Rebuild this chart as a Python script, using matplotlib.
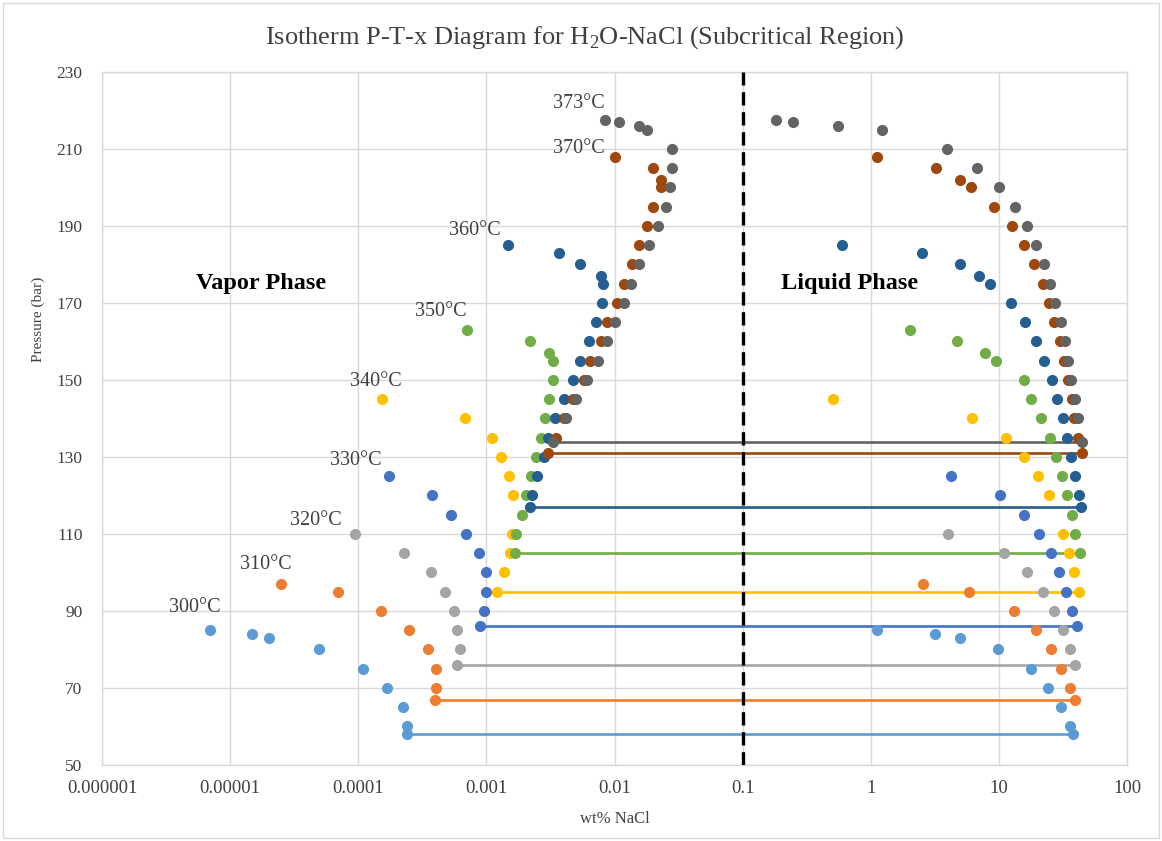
import matplotlib.pyplot as plt
import numpy as np
from matplotlib.patches import Rectangle

# pressures (bar) and compositions (wt% NaCl) per isotherm
p_300 = [85, 84, 83, 80, 75, 70, 65, 60, 58]
vap_300 = [6.9e-6, 1.49e-5, 2.0e-5, 4.96e-5, 1.09e-4, 1.69e-4, 2.22e-4, 2.4e-4, 2.4e-4]
liq_300 = [1.11, 3.18, 5.0, 9.9, 17.8, 24.3, 30.5, 35.9, 37.8]

p_310 = [97, 95, 90, 85, 80, 75, 70, 67]
vap_310 = [2.49e-5, 6.9e-5, 1.5e-4, 2.5e-4, 3.48e-4, 4.05e-4, 4.05e-4, 4.0e-4]
liq_310 = [2.55, 5.8, 13.2, 19.5, 25.7, 30.7, 35.6, 39.0]

p_320 = [110, 105, 100, 95, 90, 85, 80, 76]
vap_320 = [9.4e-5, 2.29e-4, 3.67e-4, 4.72e-4, 5.6e-4, 5.9e-4, 6.2e-4, 5.9e-4]
liq_320 = [3.98, 10.9, 16.7, 22.2, 27.0, 31.6, 36.0, 39.2]

p_330 = [125, 120, 115, 110, 105, 100, 95, 90, 86]
vap_330 = [1.75e-4, 3.78e-4, 5.3e-4, 6.9e-4, 8.7e-4, 9.9e-4, 9.9e-4, 9.6e-4, 8.9e-4]
liq_330 = [4.25, 10.2, 15.6, 20.6, 25.5, 29.4, 33.6, 37.2, 40.6]

p_340 = [145, 140, 135, 130, 125, 120, 110, 105, 100, 95]
vap_340 = [1.53e-4, 6.8e-4, 1.1e-3, 1.29e-3, 1.49e-3, 1.6e-3, 1.58e-3, 1.52e-3, 1.38e-3, 1.2e-3]
liq_340 = [0.505, 6.2, 11.4, 15.8, 20.3, 24.7, 31.4, 35.0, 38.3, 41.9]

p_350 = [163, 160, 157, 155, 150, 145, 140, 135, 130, 125, 120, 115, 110, 105]
vap_350 = [7.0e-4, 2.18e-3, 3.1e-3, 3.3e-3, 3.3e-3, 3.1e-3, 2.85e-3, 2.65e-3, 2.42e-3,
           2.23e-3, 2.04e-3, 1.88e-3, 1.7e-3, 1.66e-3]
liq_350 = [2.03, 4.75, 7.8, 9.5, 15.6, 17.7, 21.3, 25.2, 28.0, 31.2, 34.0, 37.2, 39.4, 42.7]

p_360 = [185, 183, 180, 177, 175, 170, 165, 160, 155, 150, 145, 140, 135, 130, 125, 120, 117]
vap_360 = [1.48e-3, 3.7e-3, 5.4e-3, 7.8e-3, 8.1e-3, 8.0e-3, 7.2e-3, 6.3e-3, 5.4e-3, 4.75e-3,
           4.06e-3, 3.46e-3, 3.03e-3, 2.8e-3, 2.5e-3, 2.27e-3, 2.19e-3]
liq_360 = [0.6, 2.5, 4.98, 7.0, 8.55, 12.4, 16.1, 19.5, 22.6, 25.8, 28.5, 31.4, 34.0, 36.5,
           39.3, 41.9, 43.7]

p_370 = [208, 205, 202, 200, 195, 190, 185, 180, 175, 170, 165, 160, 155, 150, 145, 140, 135, 131]
vap_370 = [0.0100, 0.0200, 0.0232, 0.0229, 0.0200, 0.0179, 0.0154, 0.0136, 0.0118, 0.0104,
           0.00876, 0.0078, 0.0064, 0.0058, 0.00475, 0.00406, 0.0035, 0.00303]
liq_370 = [1.11, 3.24, 4.99, 6.04, 9.2, 12.6, 15.8, 18.9, 22.1, 24.4, 26.7, 30.0, 32.4, 34.8,
           37.0, 38.7, 41.2, 44.3]

p_373 = [217.5, 217, 216, 215, 210, 205, 200, 195, 190, 185, 180, 175, 170, 165, 160, 155,
         150, 145, 140, 134]
vap_373 = [0.0085, 0.0109, 0.0154, 0.0178, 0.028, 0.028, 0.027, 0.025, 0.0219, 0.0185, 0.0156,
           0.0135, 0.0118, 0.0101, 0.0087, 0.0074, 0.0061, 0.0050, 0.00417, 0.0033]
liq_373 = [0.181, 0.249, 0.55, 1.22, 3.93, 6.8, 10.0, 13.3, 16.5, 19.5, 22.6, 25.2, 27.4, 30.5,
           32.8, 34.8, 36.7, 39.0, 41.2, 44.5]

temps = ["300°C", "310°C", "320°C", "330°C", "340°C", "350°C", "360°C", "370°C", "373°C"]
x_ticks = [1e-6, 1e-5, 1e-4, 1e-3, 1e-2, 1e-1, 1, 10, 100]
x_tick_labels = ["0.000001", "0.00001", "0.0001", "0.001", "0.01", "0.1", "1", "10", "100"]
y_ticks = [50, 70, 90, 110, 130, 150, 170, 190, 210, 230]


def plot_isotherms():
    plt.rcParams['font.family'] = ['Liberation Serif', 'DejaVu Serif']

    series = [
        (p_300, vap_300, liq_300, "#5B9BD5"),
        (p_310, vap_310, liq_310, "#ED7D31"),
        (p_320, vap_320, liq_320, "#A5A5A5"),
        (p_330, vap_330, liq_330, "#4472C4"),
        (p_340, vap_340, liq_340, "#FFC000"),
        (p_350, vap_350, liq_350, "#70AD47"),
        (p_360, vap_360, liq_360, "#255E91"),
        (p_370, vap_370, liq_370, "#9E480E"),
        (p_373, vap_373, liq_373, "#636363"),
    ]
    # where each temperature label sits (data coords)
    label_pos = [(5.3e-6, 91.0), (1.91e-5, 102.2), (4.7e-5, 113.4), (9.5e-5, 129.2),
                 (1.36e-4, 149.5), (4.37e-4, 167.9), (8.06e-4, 188.7), (5.23e-3, 210.0),
                 (5.23e-3, 221.7)]

    fig = plt.figure(figsize=(11.62, 8.41), dpi=100)
    ax = fig.add_axes([0.0878, 0.0904, 0.8821, 0.824])
    fig.patches.append(Rectangle((0.003, 0.004), 0.994, 0.992, transform=fig.transFigure,
                                 fill=False, edgecolor="#D9D9D9", linewidth=1.0))

    for (p, vap, liq, c), name, pos in zip(series, temps, label_pos):
        # tie line at lowest pressure
        ax.plot([vap[-1], liq[-1]], [p[-1], p[-1]], color=c, linewidth=1.9, zorder=2)
        ax.plot(vap, p, linestyle="none", marker="o", markersize=7, color=c, zorder=3)
        ax.plot(liq, p, linestyle="none", marker="o", markersize=7, color=c, zorder=3)
        ax.text(pos[0], pos[1], name, fontsize=14.5, ha="center", va="center", color="#404040")

    # dashed boundary at 0.1 wt%
    ax.axvline(0.1, color="black", linewidth=2.4, linestyle=(0, (4, 2)), zorder=4)

    ax.text(0.155, 0.6955, "Vapor Phase", transform=ax.transAxes, fontsize=17.5,
            fontweight="bold", ha="center", va="center")
    ax.text(0.729, 0.6955, "Liquid Phase", transform=ax.transAxes, fontsize=17.5,
            fontweight="bold", ha="center", va="center")

    ax.set_xscale("log")
    ax.set_xlim(1e-6, 100)
    ax.set_ylim(50, 230)
    ax.set_xticks(x_ticks, labels=x_tick_labels)
    ax.set_yticks(y_ticks)
    ax.minorticks_off()
    ax.tick_params(axis="both", length=0, colors="#404040")
    ax.tick_params(axis="x", labelsize=13.5, pad=11)
    ax.tick_params(axis="y", labelsize=12.5, pad=14)
    ax.grid(True, color="#D9D9D9", linewidth=1.0)
    ax.set_axisbelow(True)
    for s in ax.spines.values():
        s.set_color("#D9D9D9")
        s.set_linewidth(1.0)

    ax.set_xlabel("wt% NaCl", fontsize=12, color="#404040", labelpad=10)
    fig.text(0.033, 0.62, "Pressure (bar)", rotation=90, fontsize=11, color="#404040",
             ha="center", va="center")
    fig.text(0.503, 0.955, r"Isotherm P-T-x Diagram for H$_\mathregular{2}$O-NaCl (Subcritical Region)",
             fontsize=19, color="#404040", ha="center", va="center")

    plt.savefig("out.png", dpi=100)


if __name__ == "__main__":
    plot_isotherms()
